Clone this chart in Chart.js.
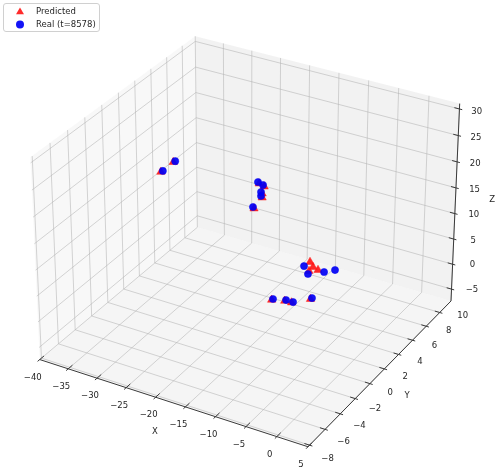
<!DOCTYPE html>
<html>
<head>
<meta charset="utf-8">
<script src="https://cdn.jsdelivr.net/npm/chart.js@4.4.1/dist/chart.umd.min.js"></script>
<style>
html,body{margin:0;padding:0;background:#ffffff;overflow:hidden;}
canvas{display:block;}
</style>
</head>
<body>
<canvas id="chart" width="503" height="475"></canvas>
<script>
// ---------------- data ----------------
const seriesNames = ['Predicted', 'Real (t=8578)'];

const predX = [-38.25, -38.25, -21.95, -21.23, -21.59, -21.37, -22.7, -13.61, -12.46, -11.43, -12.50, -16.54, -14.70, -13.51, -11.60];
const predY = [5.77, 7.37, 6.50, 6.62, 6.63, 6.46, 6.40, 6.91, 5.85, 6.26, 6.43, 4.02, 4.34, 4.33, 5.40];
const predZ = [11.83, 11.83, 13.75, 13.25, 11.75, 11.25, 8.75, 0.5, 0.5, 0.5, 0.5, -4.2, -4.2, -4.1, -4.2];

const realX = [-38.0, -38.0, -22.15, -21.43, -21.79, -21.57, -22.88, -14.16, -12.52, -10.71, -9.56, -16.34, -14.50, -13.31, -11.40];
const realY = [5.85, 7.45, 6.50, 6.62, 6.63, 6.46, 6.40, 6.53, 5.76, 6.52, 7.11, 4.05, 4.37, 4.38, 5.45];
const realZ = [12, 12, 14, 13.5, 12, 11.5, 9, 0, 0, 0, 0, -4, -4, -4, -4];

const xTicks = [-40, -35, -30, -25, -20, -15, -10, -5, 0, 5];
const yTicks = [-8, -6, -4, -2, 0, 2, 4, 6, 8, 10];
const zTicks = [-5, 0, 5, 10, 15, 20, 25, 30];
const axisTitles = ['X', 'Y', 'Z'];

const xLim = [-40, 5];
const yLim = [-8.2, 11.7];
const zLim = [-7.4, 31];

// ---------------- 3D projection (elev 30, azim -60, perspective) ----------------
const ELEV = 30, AZIM = -60, DIST = 10;
const ASP = [4, 4, 3].map(v => v * 1.8294640721620434 / Math.hypot(4, 4, 3));
const er = ELEV * Math.PI / 180, ar = AZIM * Math.PI / 180;
const W = [Math.cos(er) * Math.cos(ar), Math.cos(er) * Math.sin(ar), Math.sin(er)];
let U = [-W[1], W[0], 0];
const un = Math.hypot(U[0], U[1]);
U = U.map(v => v / un);
const V = [W[1] * U[2] - W[2] * U[1], W[2] * U[0] - W[0] * U[2], W[0] * U[1] - W[1] * U[0]];

function project(x, y, z) {
  const q = [
    (x - xLim[0]) / (xLim[1] - xLim[0]) * ASP[0] - ASP[0] / 2,
    (y - yLim[0]) / (yLim[1] - yLim[0]) * ASP[1] - ASP[1] / 2,
    (z - zLim[0]) / (zLim[1] - zLim[0]) * ASP[2] - ASP[2] / 2
  ];
  const dot = a => a[0] * q[0] + a[1] * q[1] + a[2] * q[2];
  const d = DIST - dot(W);
  return { x: dot(U) / d, y: dot(V) / d };
}

// visible window of the projection plane
const VIEW = { x0: -0.09257, x1: 0.09442, y0: -0.09033, y1: 0.08625 };

const toPts = (X, Y, Z) => X.map((x, i) => project(x, Y[i], Z[i]));

const FONT = '8.5px "DejaVu Sans", sans-serif';
const fmt = v => (v < 0 ? '\u2212' + Math.abs(v) : String(v));
const lerp = (a, b, t) => a + (b - a) * t;

const box3d = {
  id: 'box3d',
  beforeDatasetsDraw(chart) {
    const ctx = chart.ctx;
    const sx = chart.scales.x, sy = chart.scales.y;
    const P = (x, y, z) => { const p = project(x, y, z); return [sx.getPixelForValue(p.x), sy.getPixelForValue(p.y)]; };
    const [x0, x1] = xLim, [y0, y1] = yLim, [z0, z1] = zLim;

    const poly = (pts, fill) => {
      ctx.beginPath();
      pts.forEach((p, i) => { const q = P(...p); i ? ctx.lineTo(q[0], q[1]) : ctx.moveTo(q[0], q[1]); });
      ctx.closePath();
      ctx.fillStyle = fill;
      ctx.fill();
    };
    const line = (a, b, color, lw) => {
      const p = P(...a), q = P(...b);
      ctx.beginPath();
      ctx.moveTo(p[0], p[1]);
      ctx.lineTo(q[0], q[1]);
      ctx.strokeStyle = color;
      ctx.lineWidth = lw;
      ctx.stroke();
    };

    ctx.save();
    // panes
    poly([[x0, y0, z0], [x0, y1, z0], [x0, y1, z1], [x0, y0, z1]], 'rgba(242,242,242,0.5)');
    poly([[x0, y1, z0], [x1, y1, z0], [x1, y1, z1], [x0, y1, z1]], 'rgba(230,230,230,0.5)');
    poly([[x0, y0, z0], [x1, y0, z0], [x1, y1, z0], [x0, y1, z0]], 'rgba(236,236,236,0.5)');

    // grid
    const gc = 'rgba(176,176,176,0.6)', gw = 0.9;
    xTicks.forEach(x => { line([x, y0, z0], [x, y1, z0], gc, gw); line([x, y1, z0], [x, y1, z1], gc, gw); });
    yTicks.forEach(y => { line([x0, y, z0], [x1, y, z0], gc, gw); line([x0, y, z0], [x0, y, z1], gc, gw); });
    zTicks.forEach(z => { line([x0, y0, z], [x0, y1, z], gc, gw); line([x0, y1, z], [x1, y1, z], gc, gw); });

    // axis lines
    const ac = '#3a3a3a';
    line([x0, y0, z0], [x1, y0, z0], ac, 1);
    line([x1, y0, z0], [x1, y1, z0], ac, 1);
    line([x1, y1, z0], [x1, y1, z1], ac, 1);

    // ticks
    const dy = (y1 - y0) / 12, dx = (x1 - x0) / 12;
    xTicks.forEach(x => line([x, y0 - 0.15 * dy, z0], [x, y0 + 0.3 * dy, z0], ac, 1));
    yTicks.forEach(y => line([x1 + 0.12 * dx, y, z0], [x1 - 0.22 * dx, y, z0], ac, 1));
    zTicks.forEach(z => line([x1 + 0.12 * dx, y1, z], [x1 - 0.22 * dx, y1, z], ac, 1));

    // tick labels
    ctx.font = FONT;
    ctx.fillStyle = '#262626';
    ctx.textAlign = 'center';
    ctx.textBaseline = 'middle';
    xTicks.forEach(x => { const p = P(x, y0, z0); ctx.fillText(fmt(x), p[0] - 7, p[1] + 18); });
    yTicks.forEach(y => {
      const t = (y - yTicks[0]) / (yTicks[yTicks.length - 1] - yTicks[0]);
      const p = P(x1, y, z0);
      ctx.fillText(fmt(y), p[0] + lerp(18, 23, t), p[1] + lerp(14, 3.5, t));
    });
    zTicks.forEach(z => {
      const t = (z - zTicks[0]) / (zTicks[zTicks.length - 1] - zTicks[0]);
      const p = P(x1, y1, z);
      ctx.fillText(fmt(z), p[0] + lerp(20.4, 17.2, t), p[1] + lerp(0.7, 3, t));
    });

    // axis titles
    let p = P((x0 + x1) / 2, y0, z0);
    ctx.fillText(axisTitles[0], p[0] - 15.5, p[1] + 30);
    p = P(x1, (y0 + y1) / 2, z0);
    ctx.fillText(axisTitles[1], p[0] + 24.4, p[1] + 25.3);
    p = P(x1, y1, (z0 + z1) / 2);
    ctx.fillText(axisTitles[2], p[0] + 36.8, p[1] - 4.4);
    ctx.restore();
  },
  afterDraw(chart) {
    const ctx = chart.ctx;
    const ds = chart.data.datasets;
    ctx.save();
    // legend frame
    const bx = 3.5, by = 3.5, bw = 96, bh = 28, r = 2.5;
    ctx.beginPath();
    ctx.moveTo(bx + r, by);
    ctx.arcTo(bx + bw, by, bx + bw, by + bh, r);
    ctx.arcTo(bx + bw, by + bh, bx, by + bh, r);
    ctx.arcTo(bx, by + bh, bx, by, r);
    ctx.arcTo(bx, by, bx + bw, by, r);
    ctx.closePath();
    ctx.fillStyle = 'rgba(255,255,255,0.8)';
    ctx.fill();
    ctx.strokeStyle = '#d0d0d0';
    ctx.lineWidth = 1;
    ctx.stroke();

    const rows = [12, 24.5];
    ds.forEach((d, i) => {
      const cx = 20, cy = rows[i];
      ctx.fillStyle = d.pointBackgroundColor;
      ctx.beginPath();
      if (d.pointStyle === 'triangle') {
        const rr = 4.6;
        ctx.moveTo(cx, cy - rr);
        ctx.lineTo(cx + rr * 0.866, cy + rr * 0.5);
        ctx.lineTo(cx - rr * 0.866, cy + rr * 0.5);
        ctx.closePath();
      } else {
        ctx.arc(cx, cy, 4, 0, Math.PI * 2);
      }
      ctx.fill();
      ctx.font = FONT;
      ctx.fillStyle = '#262626';
      ctx.textAlign = 'left';
      ctx.textBaseline = 'middle';
      ctx.fillText(d.label, 36, cy);
    });
    ctx.restore();
  }
};

new Chart(document.getElementById('chart'), {
  type: 'scatter',
  data: {
    datasets: [
      {
        label: seriesNames[0],
        data: toPts(predX, predY, predZ),
        pointStyle: 'triangle',
        pointRadius: 4.8,
        pointBackgroundColor: 'rgba(255,20,20,0.9)',
        pointBorderColor: 'rgba(255,20,20,0.9)',
        pointBorderWidth: 0.5,
        showLine: false,
        order: 1
      },
      {
        label: seriesNames[1],
        data: toPts(realX, realY, realZ),
        pointStyle: 'circle',
        pointRadius: 3.6,
        pointBackgroundColor: 'rgba(0,0,245,0.92)',
        pointBorderColor: 'rgba(0,0,245,0.92)',
        pointBorderWidth: 0.5,
        showLine: false,
        order: 0
      }
    ]
  },
  options: {
    responsive: false,
    animation: false,
    devicePixelRatio: 1,
    layout: { padding: 0, autoPadding: false },
    events: [],
    scales: {
      x: { type: 'linear', display: false, min: VIEW.x0, max: VIEW.x1 },
      y: { type: 'linear', display: false, min: VIEW.y0, max: VIEW.y1 }
    },
    plugins: { legend: { display: false }, tooltip: { enabled: false } }
  },
  plugins: [box3d]
});
</script>
</body>
</html>
